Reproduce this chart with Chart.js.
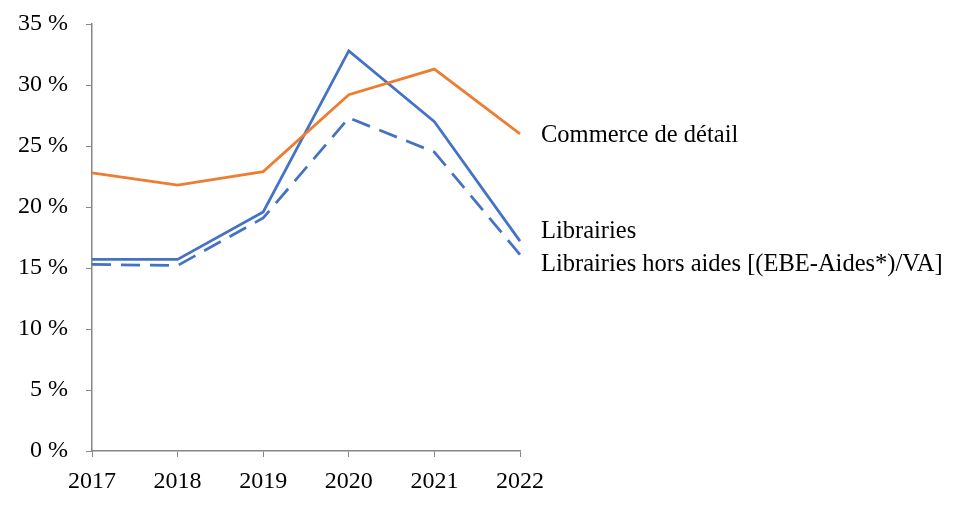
<!DOCTYPE html>
<html>
<head>
<meta charset="utf-8">
<script src="https://cdn.jsdelivr.net/npm/chart.js@4"></script>
<style>
  body { margin: 0; background: #fff; }
  #wrap { width: 964px; height: 525px; }
</style>
</head>
<body>
<div id="wrap"><canvas id="chart"></canvas></div>
<script>
const years = ["2017", "2018", "2019", "2020", "2021", "2022"];
const commerce = [22.8, 21.8, 22.9, 29.2, 31.3, 26.0];
const librairies = [15.7, 15.7, 19.6, 32.8, 27.0, 17.2];
const horsAides = [15.3, 15.2, 19.1, 27.3, 24.5, 16.1];
const seriesNames = ["Commerce de détail", "Librairies", "Librairies hors aides [(EBE-Aides*)/VA]"];
// vertical nudges so the end labels do not overlap
const labelShift = [2, -10, 10];

const serif = "'Liberation Serif', 'Times New Roman', serif";
const axisGrey = "#868686";

const endLabels = {
  id: "endLabels",
  afterDraw(chart) {
    const ctx = chart.ctx;
    const area = chart.chartArea;
    const y = chart.scales.y;
    ctx.save();
    ctx.font = "24.5px " + serif;
    ctx.fillStyle = "#000";
    ctx.textAlign = "left";
    ctx.textBaseline = "middle";
    chart.data.datasets.forEach((ds, i) => {
      const last = ds.data[ds.data.length - 1];
      ctx.fillText(seriesNames[i], area.right + 21, y.getPixelForValue(last) + labelShift[i]);
    });
    ctx.restore();
  }
};

new Chart(document.getElementById("chart"), {
  type: "line",
  data: {
    labels: years,
    datasets: [
      { label: seriesNames[0], data: commerce, borderColor: "#ED7D31", borderWidth: 2.75, pointRadius: 0, tension: 0 },
      { label: seriesNames[1], data: librairies, borderColor: "#4472C4", borderWidth: 2.75, pointRadius: 0, tension: 0 },
      { label: seriesNames[2], data: horsAides, borderColor: "#4472C4", borderWidth: 2.75, borderDash: [19, 10], pointRadius: 0, tension: 0 }
    ]
  },
  options: {
    responsive: true,
    maintainAspectRatio: false,
    animation: false,
    layout: { padding: { left: 0, right: 444, top: 24, bottom: 0 } },
    plugins: { legend: { display: false }, tooltip: { enabled: false } },
    scales: {
      x: {
        offset: false,
        grid: { display: true, drawOnChartArea: false, drawTicks: true, tickLength: 6, color: axisGrey },
        border: { color: axisGrey, width: 1.5 },
        ticks: { color: "#000", font: { family: serif, size: 24 }, padding: 10, maxRotation: 0 },
        afterFit: (s) => { s.height = 525 - 451; s.paddingLeft = 0; s.paddingRight = 0; }
      },
      y: {
        min: 0,
        max: 35,
        grid: { display: true, drawOnChartArea: false, drawTicks: true, tickLength: 6, color: axisGrey },
        border: { color: axisGrey, width: 1.5 },
        ticks: {
          stepSize: 5,
          color: "#000",
          font: { family: serif, size: 24 },
          padding: 18,
          callback: (v) => v + " %"
        },
        afterFit: (s) => { s.width = 92; s.paddingTop = 0; s.paddingBottom = 0; }
      }
    }
  },
  plugins: [endLabels]
});
</script>
</body>
</html>
